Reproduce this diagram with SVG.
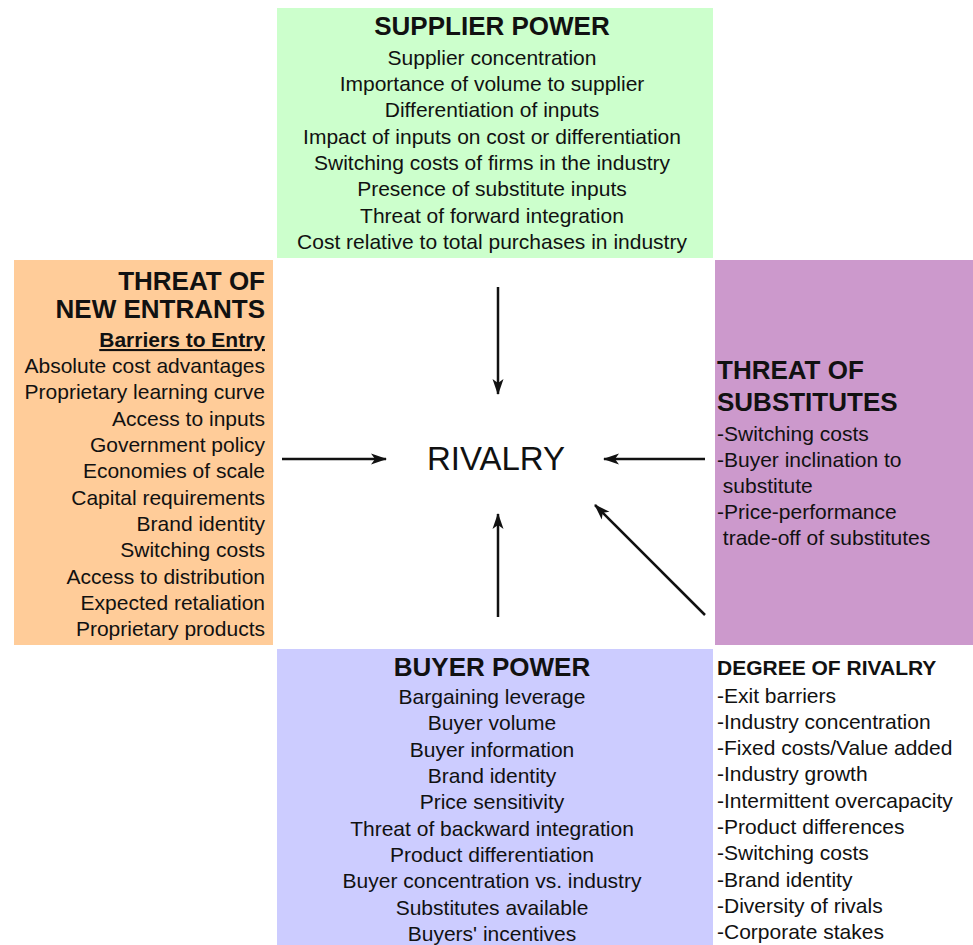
<svg xmlns="http://www.w3.org/2000/svg" width="973" height="945" viewBox="0 0 973 945">
<defs>
<style>
text{font-family:"Liberation Sans",Arial,sans-serif;fill:#111}
.t{font-size:26px;font-weight:bold}
.b{font-size:21px}
.s{font-size:21px;font-weight:bold}
.c{text-anchor:middle}
.r{text-anchor:end}
.a{stroke:#111;stroke-width:2.5;fill:none;marker-end:url(#ah)}
</style>
<marker id="ah" markerUnits="userSpaceOnUse" viewBox="0 0 16 12" refX="15" refY="6" markerWidth="16" markerHeight="12" orient="auto">
<path d="M0,0.5 L16,6 L0,11.5 L4,6 Z" fill="#111"/>
</marker>
</defs>
<rect width="973" height="945" fill="#fff"/>
<g id="supplier">
<rect x="277" y="8" width="436" height="250" fill="#ccffcc"/>
<text class="t c" x="492" y="35">SUPPLIER POWER</text>
<text class="b c" x="492" y="65">Supplier concentration</text>
<text class="b c" x="492" y="91">Importance of volume to supplier</text>
<text class="b c" x="492" y="117">Differentiation of inputs</text>
<text class="b c" x="492" y="144">Impact of inputs on cost or differentiation</text>
<text class="b c" x="492" y="170">Switching costs of firms in the industry</text>
<text class="b c" x="492" y="196">Presence of substitute inputs</text>
<text class="b c" x="492" y="223">Threat of forward integration</text>
<text class="b c" x="492" y="249">Cost relative to total purchases in industry</text>
</g>
<g id="entrants">
<rect x="14" y="260" width="259" height="385" fill="#ffcc99"/>
<text class="t r" x="265" y="290">THREAT OF</text>
<text class="t r" x="265" y="318">NEW ENTRANTS</text>
<text class="s r" x="265" y="347" text-decoration="underline">Barriers to Entry</text>
<text class="b r" x="265" y="373">Absolute cost advantages</text>
<text class="b r" x="265" y="399">Proprietary learning curve</text>
<text class="b r" x="265" y="426">Access to inputs</text>
<text class="b r" x="265" y="452">Government policy</text>
<text class="b r" x="265" y="478">Economies of scale</text>
<text class="b r" x="265" y="505">Capital requirements</text>
<text class="b r" x="265" y="531">Brand identity</text>
<text class="b r" x="265" y="557">Switching costs</text>
<text class="b r" x="265" y="584">Access to distribution</text>
<text class="b r" x="265" y="610">Expected retaliation</text>
<text class="b r" x="265" y="636">Proprietary products</text>
</g>
<g id="substitutes">
<rect x="715" y="260" width="258" height="385" fill="#cc99cc"/>
<text class="t" x="717" y="379">THREAT OF</text>
<text class="t" x="717" y="411">SUBSTITUTES</text>
<text class="b" x="717" y="441">-Switching costs</text>
<text class="b" x="717" y="467">-Buyer inclination to</text>
<text class="b" x="717" y="493" xml:space="preserve"> substitute</text>
<text class="b" x="717" y="519">-Price-performance</text>
<text class="b" x="717" y="545" xml:space="preserve"> trade-off of substitutes</text>
</g>
<g id="buyer">
<rect x="277" y="649" width="436" height="296" fill="#ccccff"/>
<text class="t c" x="492" y="676">BUYER POWER</text>
<text class="b c" x="492" y="704">Bargaining leverage</text>
<text class="b c" x="492" y="730">Buyer volume</text>
<text class="b c" x="492" y="757">Buyer information</text>
<text class="b c" x="492" y="783">Brand identity</text>
<text class="b c" x="492" y="809">Price sensitivity</text>
<text class="b c" x="492" y="836">Threat of backward integration</text>
<text class="b c" x="492" y="862">Product differentiation</text>
<text class="b c" x="492" y="888">Buyer concentration vs. industry</text>
<text class="b c" x="492" y="915">Substitutes available</text>
<text class="b c" x="492" y="941">Buyers' incentives</text>
</g>
<g id="degree">
<text class="s" x="717" y="675">DEGREE OF RIVALRY</text>
<text class="b" x="717" y="703">-Exit barriers</text>
<text class="b" x="717" y="729">-Industry concentration</text>
<text class="b" x="717" y="755">-Fixed costs/Value added</text>
<text class="b" x="717" y="781">-Industry growth</text>
<text class="b" x="717" y="808">-Intermittent overcapacity</text>
<text class="b" x="717" y="834">-Product differences</text>
<text class="b" x="717" y="860">-Switching costs</text>
<text class="b" x="717" y="887">-Brand identity</text>
<text class="b" x="717" y="913">-Diversity of rivals</text>
<text class="b" x="717" y="939">-Corporate stakes</text>
</g>
<g id="rivalry">
<text class="c" x="496" y="470" style="font-size:33px">RIVALRY</text>
</g>
<g id="connectors">
<line class="a" x1="498" y1="287" x2="498" y2="394"/>
<line class="a" x1="282" y1="459" x2="386" y2="459"/>
<line class="a" x1="705" y1="459" x2="604" y2="459"/>
<line class="a" x1="498" y1="617" x2="498" y2="514"/>
<line class="a" x1="705" y1="615" x2="595" y2="505"/>
</g>
</svg>
